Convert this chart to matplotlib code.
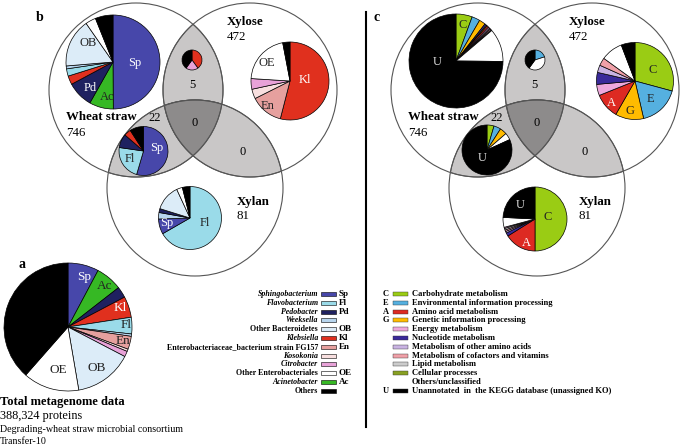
import numpy as np
import matplotlib
matplotlib.use("Agg")
import matplotlib.pyplot as plt
from matplotlib.patches import Polygon, Rectangle, Circle

plt.rcParams['font.family'] = ['Liberation Serif', 'DejaVu Serif']

W, H = 685, 448

# ---- taxonomy (panels a, b) ----
species_names = ["Sphingobacterium", "Flavobacterium", "Pedobacter", "Weeksella",
                 "Other Bacteroidetes", "Klebsiella",
                 "Enterobacteriaceae_bacterium strain FG157", "Kosokonia",
                 "Citrobacter", "Other Enterobacteriales", "Acinetobacter", "Others"]
species_keys = ["Sp", "Fl", "Pd", "Wk", "OB", "Kl", "En", "Ko", "Ci", "OE", "Ac", "Ot"]
species_abbr = ["Sp", "Fl", "Pd", "", "OB", "Kl", "En", "", "", "OE", "Ac", ""]
species_italic = [True, True, True, True, False, True, False, True, True, False, True, False]
species_colors = ["#4747aa", "#9adbe9", "#1f2160", "#b7d5ee", "#dcecf8", "#e0301e",
                  "#e6a09e", "#f8dfdf", "#e8a2d8", "#ffffff", "#36b824", "#000000"]

# panel a: whole metagenome (%)
total_keys = ["Sp", "Ac", "Pd", "Kl", "Fl", "Wk", "En", "Ko", "Ci", "OB", "OE", "Ot"]
total_vals = [7.8, 6.7, 2.8, 5.3, 4.2, 0.6, 3.3, 0.6, 1.4, 14.7, 14.2, 38.6]

# panel b
ws_keys = ["Sp", "Ac", "Pd", "Kl", "Fl", "Wk", "OB", "OE", "Ot"]
ws_vals = [50, 8.3, 9, 3, 2.5, 1, 16.7, 3.6, 6.1]
xylose_keys = ["Kl", "En", "Ko", "Ci", "OE", "Ot"]
xylose_vals = [54, 13.6, 4, 4.4, 21, 3]
wsxy_keys = ["Kl", "Ci", "Ot"]
wsxy_vals = [2, 1, 2]
wsxn_keys = ["Sp", "Fl", "Pd", "Kl", "Ot"]
wsxn_vals = [12, 5, 2, 1, 2]
xylan_keys = ["Fl", "Sp", "Wk", "Pd", "OB", "OE", "Ot"]
xylan_vals = [66.7, 7.8, 3.3, 2, 13.3, 3, 3.9]

# ---- KEGG (panel c) ----
kegg_letters = ["C", "E", "A", "G", "", "", "", "", "", "", "", "U"]
kegg_keys = ["C", "E", "A", "G", "En", "Nu", "OA", "Co", "Li", "Ce", "Ot", "U"]
kegg_names = ["Carbohydrate metabolism", "Environmental information processing",
              "Amino acid metabolism", "Genetic information processing",
              "Energy metabolism", "Nucleotide metabolism",
              "Metabolism of other amino acids", "Metabolism of cofactors and vitamins",
              "Lipid metabolism", "Cellular processes", "Others/unclassified",
              "Unannotated  in  the KEGG database (unassigned KO)"]
kegg_colors = ["#9acc14", "#55b0e0", "#dd2a22", "#ffbb00", "#eea8dc", "#3a2a9a",
               "#c9b3e2", "#f0a0a8", "#cccccc", "#88a022", "#ffffff", "#000000"]

k_ws_keys = ["C", "E", "G", "Nu", "Ce", "A", "En", "OA", "Co", "Li", "Ot", "U"]
k_ws_vals = [5.6, 2.8, 2.2, 0.6, 0.4, 0.6, 0.5, 0.4, 0.4, 0.3, 11.4, 75]
k_xylose_keys = ["C", "E", "G", "A", "En", "Nu", "OA", "Co", "Ot", "U"]
k_xylose_vals = [29.2, 17.2, 11.9, 10.6, 4.7, 5, 3.1, 3.3, 9.2, 5.8]
k_wsxy_keys = ["E", "Ot", "U"]
k_wsxy_vals = [1, 2, 2]
k_wsxn_keys = ["C", "E", "G", "Ot", "U"]
k_wsxn_vals = [1, 1, 1, 1, 18]
k_xylan_keys = ["C", "A", "Nu", "OA", "Co", "Li", "En", "Ot", "U"]
k_xylan_vals = [50, 16.1, 1.7, 0.8, 0.8, 0.8, 0.6, 5, 24.2]

venn_names = ["Wheat straw", "Xylose", "Xylan"]
venn_counts = ["746", "472", "81"]
overlap_counts = ["5", "22", "0", "0"]  # ws&xylose, ws&xylan, all, xylose&xylan

sp_col = dict(zip(species_keys, species_colors))
kg_col = dict(zip(kegg_keys, kegg_colors))

fig = plt.figure(figsize=(W / 100, H / 100), dpi=100)
ax = fig.add_axes([0, 0, 1, 1])


def region(circles):
    # boundary of the intersection of the given circles (convex)
    pts = []
    t = np.linspace(0, 2 * np.pi, 1440, endpoint=False)
    for i, (cx, cy, r) in enumerate(circles):
        x = cx + r * np.cos(t)
        y = cy + r * np.sin(t)
        ok = np.ones_like(x, bool)
        for j, (ox, oy, orr) in enumerate(circles):
            if j != i:
                ok &= (x - ox) ** 2 + (y - oy) ** 2 <= orr ** 2 + 1e-6
        pts.append(np.c_[x[ok], y[ok]])
    pts = np.vstack(pts)
    c = pts.mean(0)
    ang = np.arctan2(pts[:, 1] - c[1], pts[:, 0] - c[0])
    return pts[np.argsort(ang)]


def venn(dx):
    ws = (136 + dx, 90, 87)
    xy = (250 + dx, 90, 87)
    xn = (195 + dx, 188, 88)
    for pair in [(ws, xy), (ws, xn), (xy, xn)]:
        ax.add_patch(Polygon(region(pair), closed=True, fc="#c9c7c7", ec="#555555",
                             lw=0.7, zorder=1))
    ax.add_patch(Polygon(region([ws, xy, xn]), closed=True, fc="#8d8b8b", ec="#555555",
                         lw=0.7, zorder=1.5))
    for cx, cy, r in [ws, xy, xn]:
        ax.add_patch(Circle((cx, cy), r, fc="none", ec="#555555", lw=0.8, zorder=2))
    kw = dict(fontsize=9.3, fontweight="bold", va="center", ha="left", zorder=4)
    ax.text(227 + dx, 22, venn_names[1], **kw)
    ax.text(227 + dx, 37, venn_counts[1], fontsize=9.3, va="center", zorder=4)
    ax.text(66 + dx, 117, venn_names[0], **kw)
    ax.text(66 + dx, 133, venn_counts[0], fontsize=9.3, va="center", zorder=4)
    ax.text(237 + dx, 202, venn_names[2], **kw)
    ax.text(237 + dx, 216, venn_counts[2], fontsize=9.3, va="center", zorder=4)
    nkw = dict(fontsize=9, ha="center", va="center", zorder=4)
    ax.text(192 + dx, 85, overlap_counts[0], **nkw)
    ax.text(155 + dx, 118, overlap_counts[1], **nkw)
    ax.text(195 + dx, 123, overlap_counts[2], **nkw)
    ax.text(243 + dx, 152, overlap_counts[3], **nkw)


def pie(keys, vals, cmap, cx, cy, r, labels=(), fs=9):
    # y axis is inverted: start at -90 and go "counterclock" to run clockwise from 12 o'clock
    ax.pie(vals, colors=[cmap[k] for k in keys], center=(cx, cy), radius=r,
           startangle=-90, counterclock=True, frame=False,
           wedgeprops=dict(edgecolor="black", linewidth=0.5, zorder=3))
    for txt, x, y, c in labels:
        ax.text(x, y, txt, color=c, fontsize=fs, ha="center", va="center", zorder=5)


# panel b
venn(0)
pie(ws_keys, ws_vals, sp_col, 113, 62, 47,
    [("Sp", 135, 63, "white"), ("OB", 88, 43, "#222222"), ("Pd", 90, 88, "white"),
     ("Ac", 107, 97, "#222222")])
pie(xylose_keys, xylose_vals, sp_col, 290, 81, 39,
    [("Kl", 305, 80, "white"), ("OE", 267, 63, "#222222"), ("En", 268, 106, "#222222")])
pie(wsxy_keys, wsxy_vals, sp_col, 192, 60, 10)
pie(wsxn_keys, wsxn_vals, sp_col, 143.5, 151, 24.5,
    [("Fl", 130, 159, "#222222"), ("Sp", 157, 148, "white")])
pie(xylan_keys, xylan_vals, sp_col, 190, 218, 31.5,
    [("Sp", 167, 223, "white"), ("Fl", 205, 223, "#222222")])
ax.text(40, 17, "b", fontsize=10, fontweight="bold", ha="center", va="center")

# panel c
venn(342)
pie(k_ws_keys, k_ws_vals, kg_col, 456, 61, 47,
    [("U", 437, 62, "#dddddd"), ("C", 463, 25, "#222222")])
pie(k_xylose_keys, k_xylose_vals, kg_col, 635, 81, 38.5,
    [("C", 653, 70, "#222222"), ("E", 650, 99, "#222222"), ("G", 630, 111, "#222222"),
     ("A", 611, 103, "white")])
pie(k_wsxy_keys, k_wsxy_vals, kg_col, 535, 60, 10)
pie(k_wsxn_keys, k_wsxn_vals, kg_col, 487, 150, 25, [("U", 482, 158, "#dddddd")])
pie(k_xylan_keys, k_xylan_vals, kg_col, 535, 219, 32,
    [("C", 548, 217, "#222222"), ("U", 520, 205, "#dddddd"), ("A", 526, 243, "white")])
ax.text(377, 17, "c", fontsize=10, fontweight="bold", ha="center", va="center")
ax.plot([366, 366], [12, 427], color="black", lw=1.5)

# panel a
pie(total_keys, total_vals, sp_col, 68, 327, 64,
    [("Sp", 84, 277, "white"), ("Ac", 105, 286, "#222222"), ("Kl", 120, 308, "white"),
     ("Fl", 126, 325, "#222222"), ("En", 123, 341, "#222222"), ("OB", 97, 368, "#222222"),
     ("OE", 58, 370, "#222222")], fs=9.5)
ax.text(22, 264, "a", fontsize=10, fontweight="bold", ha="center", va="center")
ax.text(0, 402, "Total metagenome data", fontsize=9, fontweight="bold", va="center")
ax.text(0, 416, "388,324 proteins", fontsize=8.8, va="center")
ax.text(0, 430, "Degrading-wheat straw microbial consortium", fontsize=7.2, va="center")
ax.text(0, 442, "Transfer-10", fontsize=7.2, va="center")

# species legend
y0, dy = 294, 8.8
for i, name in enumerate(species_names):
    y = y0 + i * dy
    ax.text(318, y, name, fontsize=5.7, fontweight="bold",
            style="italic" if species_italic[i] else "normal", ha="right", va="center")
    ax.add_patch(Rectangle((321, y - 2), 15, 4, fc=species_colors[i], ec="black", lw=0.4))
    ax.text(339, y, species_abbr[i], fontsize=6.5, fontweight="bold", ha="left", va="center")

# KEGG legend
for i, name in enumerate(kegg_names):
    y = y0 + i * dy
    ax.text(386, y, kegg_letters[i], fontsize=6, fontweight="bold", ha="center", va="center")
    if kegg_keys[i] != "Ot":
        ax.add_patch(Rectangle((393, y - 2), 15, 4, fc=kegg_colors[i], ec="#333333", lw=0.3))
    ax.text(412, y, name, fontsize=6.1, fontweight="bold", ha="left", va="center")

ax.set_xlim(0, W)
ax.set_ylim(H, 0)
ax.set_aspect("equal")
ax.axis("off")
fig.savefig("out.png", dpi=100)
